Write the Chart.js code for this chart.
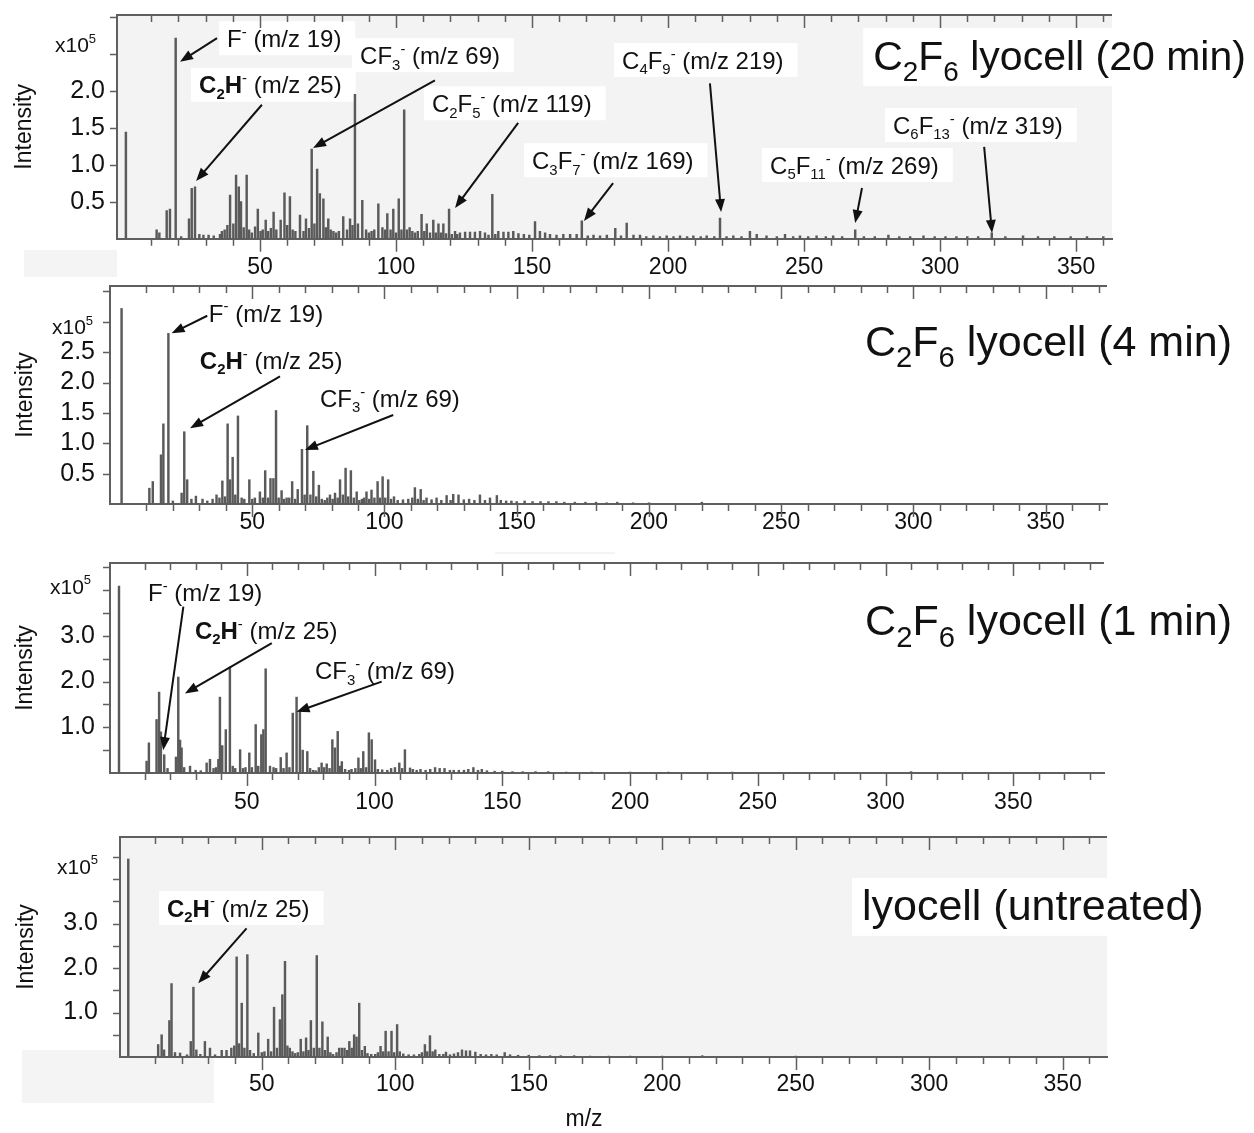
<!DOCTYPE html>
<html><head><meta charset="utf-8"><title>Negative-ion mass spectra of lyocell</title>
<script src="https://cdn.jsdelivr.net/npm/chart.js@4.4.1/dist/chart.umd.min.js"></script>
<style>
html,body{margin:0;padding:0;background:#fff;}
#fig{position:relative;width:1254px;height:1133px;overflow:hidden;background:#fff;}
#fig canvas{position:absolute;left:0;}
</style></head>
<body><div id="fig">
<canvas id="c1" width="1254" height="280" style="top:0px"></canvas>
<canvas id="c2" width="1254" height="275" style="top:280px"></canvas>
<canvas id="c3" width="1254" height="265" style="top:555px"></canvas>
<canvas id="c4" width="1254" height="313" style="top:820px"></canvas>
</div>
<script>
// ---------------- DATA ----------------
const xTickLabels = [50, 100, 150, 200, 250, 300, 350];
const panelTitles = ["C_2F_6 lyocell (20 min)", "C_2F_6 lyocell (4 min)", "C_2F_6 lyocell (1 min)", "lyocell (untreated)"];
const yTicks20 = [0.5, 1.0, 1.5, 2.0];
const yTicks4 = [0.5, 1.0, 1.5, 2.0, 2.5];
const yTicks1 = [1.0, 2.0, 3.0];
const yTicksUn = [1.0, 2.0, 3.0];
const labels20 = ["F^- (m/z 19)", "*C_2H*^- (m/z 25)", "CF_3^- (m/z 69)", "C_2F_5^- (m/z 119)", "C_3F_7^- (m/z 169)", "C_4F_9^- (m/z 219)", "C_5F_{11}^- (m/z 269)", "C_6F_{13}^- (m/z 319)"];
const labels4 = ["F^- (m/z 19)", "*C_2H*^- (m/z 25)", "CF_3^- (m/z 69)"];
const labels1 = ["F^- (m/z 19)", "*C_2H*^- (m/z 25)", "CF_3^- (m/z 69)"];
const labelsUn = ["*C_2H*^- (m/z 25)"];

// spectra: [m/z, intensity x10^5]
const spectrum20min = [[0.7,1.44],[12,0.12],[13,0.08],[15.7,0.38],[16.9,0.40],[19,2.71],[21,0.03],[23.9,0.27],[24.9,0.68],[26.1,0.70],[27.7,0.06],[29.2,0.05],[31.1,0.05],[33,0.04],[35.3,0.06],[36,0.1],[37,0.12],[38,0.18],[39,0.59],[40.2,0.2],[41.2,0.86],[42.2,0.70],[43,0.5],[44,0.15],[45.1,0.86],[46,0.12],[47,0.08],[48.2,0.16],[49.2,0.40],[50.2,0.1],[51,0.12],[52.1,0.25],[53,0.1],[54,0.14],[55,0.36],[56,0.12],[57.6,0.25],[59,0.62],[60,0.18],[61,0.57],[62,0.12],[63,0.1],[64.7,0.32],[66,0.1],[66.9,0.27],[68,0.14],[69,1.21],[70,0.2],[71,0.94],[72,0.61],[73.3,0.54],[74.2,0.15],[75.1,0.27],[76,0.12],[77,0.1],[78,0.08],[79,0.1],[80.6,0.3],[82,0.12],[83.1,0.27],[84,0.18],[84.9,1.95],[86,0.2],[87.6,0.52],[89,0.12],[90,0.08],[91,0.1],[92,0.12],[93.5,0.47],[95,0.15],[96,0.12],[96.8,0.34],[98,0.12],[99,0.40],[100,0.08],[101,0.54],[102,0.12],[103,1.74],[104,0.12],[105,0.15],[106,0.1],[107,0.08],[108,0.1],[109.4,0.33],[110.4,0.1],[111.3,0.2],[112.5,0.08],[113.7,0.25],[114.6,0.08],[115.6,0.2],[116.5,0.08],[117.4,0.2],[118.4,0.07],[119.5,0.4],[120.5,0.06],[121.7,0.1],[122.5,0.06],[123.5,0.08],[125.4,0.09],[127.2,0.09],[129,0.09],[130.9,0.1],[132.7,0.08],[134,0.05],[135.4,0.6],[136.5,0.06],[137.6,0.1],[139.5,0.09],[141.3,0.09],[143.1,0.1],[145,0.07],[147,0.06],[149,0.05],[151.1,0.23],[152.9,0.1],[154.8,0.08],[156.6,0.06],[159,0.05],[161.5,0.06],[164,0.06],[166.4,0.06],[168.3,0.24],[170.5,0.04],[172.6,0.05],[175,0.04],[177.5,0.05],[180.6,0.14],[182.7,0.04],[184.8,0.21],[187.3,0.05],[189.7,0.05],[192,0.03],[194.6,0.04],[197,0.03],[199.5,0.04],[202,0.03],[204.4,0.04],[207,0.03],[209.3,0.04],[212,0.03],[214.2,0.04],[217,0.03],[219.1,0.28],[221.5,0.03],[224,0.04],[227,0.03],[230.1,0.1],[232.6,0.06],[236.2,0.04],[240,0.03],[243,0.06],[246,0.03],[248.5,0.04],[251.5,0.03],[254.6,0.04],[258,0.03],[260.7,0.04],[264,0.03],[268.8,0.12],[272,0.03],[276,0.03],[281,0.05],[285,0.03],[289,0.03],[293.9,0.04],[298,0.03],[302,0.03],[306,0.03],[310,0.03],[314,0.03],[319,0.08],[324,0.03],[330.5,0.04],[336,0.03],[342,0.03],[348,0.03],[354,0.03],[360,0.03]];

const spectrum4min = [[0.6,3.22],[11.1,0.26],[12.4,0.37],[15.5,0.81],[16.4,1.32],[18.3,2.81],[20,0.05],[23.3,0.18],[24.3,1.19],[25.4,0.40],[27,0.08],[28.7,0.13],[31.2,0.08],[33,0.05],[35,0.08],[36.5,0.15],[37.6,0.1],[38.7,0.38],[39.7,0.12],[40.7,1.32],[41.6,0.40],[42.6,0.77],[43.6,0.15],[44.6,1.45],[46,0.1],[47,0.08],[48.9,0.40],[50,0.08],[51,0.1],[52.9,0.2],[54,0.1],[54.9,0.55],[56,0.1],[56.9,0.42],[58,0.42],[59,1.54],[60,0.1],[61.1,0.22],[62,0.08],[63,0.1],[64,0.1],[65.1,0.37],[66.2,0.08],[67.2,0.24],[68.8,0.90],[69.8,0.15],[70.8,1.29],[72,0.15],[73.1,0.54],[74.2,0.12],[75.2,0.31],[76.3,0.08],[77.4,0.06],[78.4,0.1],[79.4,0.15],[80.4,0.08],[81.3,0.18],[82.3,0.1],[83.2,0.40],[84.3,0.15],[85.3,0.59],[86.3,0.12],[87.3,0.55],[88.4,0.1],[89.5,0.2],[90.5,0.06],[91.5,0.08],[92.3,0.1],[93.2,0.2],[94.2,0.08],[95.1,0.23],[96.2,0.1],[97.4,0.37],[98.3,0.1],[99.3,0.45],[100.3,0.1],[101.4,0.40],[102.5,0.08],[103.6,0.12],[105,0.06],[107,0.07],[109,0.08],[110.5,0.1],[111.5,0.27],[112.6,0.08],[113.7,0.24],[114.8,0.06],[115.9,0.1],[117.8,0.07],[119.7,0.1],[121.5,0.06],[123.5,0.14],[125,0.06],[126,0.16],[128,0.15],[130,0.07],[132,0.08],[134,0.06],[136.1,0.15],[138,0.06],[139.9,0.1],[142.5,0.14],[144,0.06],[146,0.05],[148,0.05],[150,0.04],[153,0.05],[156,0.04],[159,0.04],[162,0.04],[165,0.04],[168,0.03],[172,0.03],[176,0.03],[180,0.03],[184,0.02],[188,0.03],[194,0.02],[200,0.02],[220,0.03]];

const spectrum1min = [[0,4.09],[10.8,0.26],[11.7,0.66],[14.7,1.17],[15.7,1.77],[16.4,0.9],[17.7,0.4],[19,0.1],[22.3,0.35],[23.2,2.10],[23.9,0.72],[24.5,0.55],[25.5,0.12],[27.8,0.15],[30,0.06],[32,0.05],[34.3,0.22],[35.6,0.3],[37,0.1],[38,0.12],[38.9,0.3],[39.5,1.66],[40.4,0.6],[41.8,0.95],[43.4,2.32],[44.5,0.15],[45.5,0.1],[47.4,0.51],[48.5,0.1],[49.5,0.12],[51,0.44],[52,0.12],[53.5,1.06],[54.5,0.15],[55.7,0.84],[56.5,0.95],[57.4,2.28],[59.1,0.15],[60.5,0.12],[61.5,0.1],[63.3,0.34],[64.4,0.1],[65.6,0.44],[66.7,0.12],[68,1.31],[69.5,1.66],[70.8,1.35],[71.9,0.5],[73.7,0.47],[74.8,0.1],[76,0.06],[77,0.05],[78.2,0.12],[79.3,0.22],[80.3,0.12],[81.3,0.2],[82.4,0.1],[83.5,0.73],[84.5,0.55],[85.6,0.91],[86.4,0.15],[87.2,0.25],[88.5,0.08],[90,0.06],[91,0.08],[92.5,0.1],[93.7,0.33],[94.6,0.1],[95.6,0.47],[96.7,0.12],[97.8,0.88],[98.9,0.73],[100.2,0.29],[101.3,0.08],[103,0.07],[105,0.06],[106.5,0.1],[108,0.12],[109.7,0.22],[110.8,0.1],[111.9,0.51],[113.9,0.11],[115,0.08],[116.5,0.06],[118,0.08],[120,0.06],[121.8,0.08],[123.7,0.12],[125.5,0.1],[127.4,0.1],[129.5,0.06],[131,0.06],[133,0.06],[135,0.06],[136.7,0.08],[138.7,0.12],[140.5,0.06],[142,0.08],[144,0.05],[147,0.04],[150,0.04],[154,0.03],[158,0.03],[163,0.03],[168,0.03],[175,0.02],[185,0.02],[200,0.02],[215,0.02],[240,0.02],[310,0.03]];

const spectrumUntreated = [[0,4.45],[11.2,0.28],[12.5,0.5],[13.4,0.16],[15.4,0.82],[16.2,1.65],[17.5,0.1],[19.4,0.09],[22,0.05],[23.4,0.35],[24.4,1.57],[25.5,0.16],[27,0.06],[28.7,0.35],[30.6,0.2],[32.5,0.05],[35,0.15],[36.8,0.15],[38.6,0.2],[39.7,0.25],[40.6,2.25],[41.5,0.3],[42.5,1.21],[43.5,0.2],[44.6,2.3],[45.6,0.15],[47,0.08],[48.7,0.54],[50,0.1],[51,0.12],[52.4,0.40],[53.5,0.12],[54.6,1.12],[55.7,0.2],[56.8,0.84],[57.7,1.4],[58.7,2.15],[59.6,0.25],[60.5,0.2],[61.5,0.12],[62.5,0.08],[63.5,0.1],[64.6,0.4],[65.6,0.12],[66.6,0.43],[67.5,0.15],[68.4,0.82],[69.5,0.2],[70.6,2.28],[71.6,0.2],[72.7,0.79],[73.7,0.15],[74.7,0.45],[75.7,0.1],[76.7,0.06],[78,0.1],[79,0.2],[80,0.2],[81,0.2],[82,0.15],[82.8,0.35],[83.7,0.2],[84.6,0.5],[85.5,0.45],[86.5,1.21],[87.5,0.15],[88.6,0.24],[89.6,0.08],[91,0.06],[92.5,0.06],[93.5,0.1],[94.5,0.24],[95.5,0.12],[96.4,0.58],[97.5,0.12],[98.6,0.58],[99.6,0.1],[100.7,0.73],[101.7,0.12],[103,0.07],[105,0.05],[107,0.05],[109,0.06],[110,0.1],[111.1,0.28],[112,0.12],[113,0.48],[114,0.12],[115,0.16],[116.5,0.06],[118,0.06],[119,0.11],[120.5,0.05],[122,0.07],[123.5,0.1],[125,0.16],[126.5,0.14],[128,0.14],[130,0.11],[132,0.06],[134,0.05],[136,0.06],[138,0.05],[141,0.1],[143,0.05],[146,0.04],[150,0.04],[154,0.03],[158,0.03],[162,0.03],[167,0.03],[173,0.02],[180,0.02],[188,0.02],[200,0.02],[215,0.03],[250,0.02]];

// ---------------- LAYOUT (positions / styles) ----------------
const FONT = "'Liberation Sans', Arial, Helvetica, sans-serif";
const panels = [
  { canvas: 'c1', canvasTop: 0, canvasH: 280, left: 117, right: 1112, plotTop: 15, base: 238.7,
    xMin: -2.57, xMax: 363.2, yMax: 3.023, plotBg: '#f3f3f3', xPad: 15, yPad: 12,
    intensityX: 25, unitX: 55, unitY: 2.62, spectrum: spectrum20min, yTicks: yTicks20, labels: labels20,
    title: panelTitles[0], titleAt: [275.4, 2.48], titleSize: 41,
    annot: [
      { at: [37.9, 2.71], from: [34.2, 2.71], tip: [20.6, 2.39] },
      { at: [27.6, 2.08], from: [50.7, 1.81], tip: [26.5, 0.78] },
      { at: [86.8, 2.48], from: [114.3, 2.14], tip: [69.5, 1.225] },
      { at: [113.2, 1.83], from: [144.9, 1.565], tip: [121.7, 0.415] },
      { at: [150, 1.06], from: [179.8, 0.75], tip: [169.1, 0.24] },
      { at: [183.1, 2.415], from: [215.4, 2.10], tip: [219.5, 0.36] },
      { at: [237.5, 0.996], from: [271.3, 0.685], tip: [268.8, 0.212] },
      { at: [282.7, 1.536], from: [316.2, 1.24], tip: [319.1, 0.077] }
    ],
    artifacts: [[24, 250, 93, 27]] },
  { canvas: 'c2', canvasTop: 280, canvasH: 275, left: 110, right: 1107, plotTop: 286, base: 504,
    xMin: -3.78, xMax: 373.2, yMax: 3.59, plotBg: null, xPad: 5, yPad: 15,
    intensityX: 26, unitX: 52, unitY: 2.92, spectrum: spectrum4min, yTicks: yTicks4, labels: labels4,
    title: panelTitles[1], titleAt: [281.7, 2.70], titleSize: 43,
    annot: [
      { at: [33.6, 3.147], from: [33.0, 3.10], tip: [19.5, 2.81] },
      { at: [30.2, 2.37], from: [60.5, 2.10], tip: [26.5, 1.247] },
      { at: [75.6, 1.746], from: [103.3, 1.466], tip: [69.9, 0.89] }
    ],
    artifacts: [[495, 552, 120, 2]] },
  { canvas: 'c3', canvasTop: 555, canvasH: 265, left: 110, right: 1104, plotTop: 563, base: 773,
    xMin: -3.52, xMax: 385.5, yMax: 4.595, plotBg: null, xPad: 16, yPad: 15,
    intensityX: 26, unitX: 50, unitY: 4.09, spectrum: spectrum1min, yTicks: yTicks1, labels: labels1,
    title: panelTitles[2], titleAt: [292, 3.35], titleSize: 43,
    annot: [
      { at: [11.35, 3.96], from: [25.2, 3.64], tip: [17.3, 0.50] },
      { at: [29.7, 3.13], from: [59.8, 2.84], tip: [25.8, 1.74] },
      { at: [76.7, 2.25], from: [102.8, 2.0], tip: [69.5, 1.34] }
    ],
    artifacts: [] },
  { canvas: 'c4', canvasTop: 820, canvasH: 313, left: 120, right: 1107, plotTop: 837, base: 1057,
    xMin: -3.1, xMax: 366.6, yMax: 4.944, plotBg: '#f3f3f3', xPad: 14, yPad: 22,
    intensityX: 27, unitX: 57, unitY: 4.29, spectrum: spectrumUntreated, yTicks: yTicksUn, labels: labelsUn,
    title: panelTitles[3], titleAt: [274.8, 3.42], titleSize: 43,
    annot: [
      { at: [14.5, 3.35], from: [44.3, 2.89], tip: [26.2, 1.656] }
    ],
    artifacts: [[22, 1050, 192, 53]],
    axisTitle: 'm/z', axisTitleAt: [584, 1120] }
];

// ---------------- rich text helpers ----------------
function parseRich(str) {
  const segs = []; let bold = false; let i = 0;
  while (i < str.length) {
    const c = str[i];
    if (c === '*') { bold = !bold; i++; continue; }
    if (c === '_' || c === '^') {
      let t; const j = i + 1;
      if (str[j] === '{') { const k = str.indexOf('}', j); t = str.slice(j + 1, k); i = k + 1; }
      else { t = str[j]; i = j + 1; }
      segs.push({ t, mode: c === '_' ? 'sub' : 'sup', bold }); continue;
    }
    let t = '';
    while (i < str.length && '*_^'.indexOf(str[i]) < 0) { t += str[i]; i++; }
    segs.push({ t, mode: 'n', bold });
  }
  return segs;
}
function segFont(s, size, small) {
  const fs = s.mode === 'n' ? size : size * small;
  return (s.bold ? 'bold ' : '') + fs.toFixed(1) + 'px ' + FONT;
}
function richWidth(ctx, segs, size, small) {
  let w = 0;
  segs.forEach(s => { ctx.font = segFont(s, size, small); w += ctx.measureText(s.t).width; });
  return w;
}
function drawRich(ctx, segs, x, yMid, size, small, subDy, supDy) {
  const yb = yMid + size * 0.36; let cx = x;
  ctx.textAlign = 'left'; ctx.textBaseline = 'alphabetic';
  segs.forEach(s => {
    ctx.font = segFont(s, size, small);
    let y = yb;
    if (s.mode === 'sub') y += size * subDy;
    if (s.mode === 'sup') y -= size * supDy;
    ctx.fillText(s.t, cx, y);
    cx += ctx.measureText(s.t).width;
  });
}
function arrow(ctx, x1, y1, x2, y2) {
  const a = Math.atan2(y2 - y1, x2 - x1), L = 13, W = 5;
  const ca = Math.cos(a), sa = Math.sin(a);
  ctx.beginPath(); ctx.moveTo(x1, y1); ctx.lineTo(x2 - L * 0.7 * ca, y2 - L * 0.7 * sa); ctx.stroke();
  ctx.beginPath(); ctx.moveTo(x2, y2);
  ctx.lineTo(x2 - L * ca + W * sa, y2 - L * sa - W * ca);
  ctx.lineTo(x2 - L * ca - W * sa, y2 - L * sa + W * ca);
  ctx.closePath(); ctx.fill();
}

const ANN_SIZE = 24;

const panelPlugin = {
  id: 'panel',
  beforeDraw(chart, args, o) {
    const ctx = chart.ctx, ca = chart.chartArea, P = o.P;
    ctx.save();
    ctx.fillStyle = '#fff'; ctx.fillRect(0, 0, chart.width, chart.height);
    P.artifacts.forEach(r => { ctx.fillStyle = '#f4f4f4'; ctx.fillRect(r[0], r[1] - P.canvasTop, r[2], r[3]); });
    if (P.plotBg) { ctx.fillStyle = P.plotBg; ctx.fillRect(ca.left, ca.top, ca.right - ca.left, ca.bottom - ca.top); }
    ctx.restore();
  },
  beforeDatasetsDraw(chart, args, o) {
    const ctx = chart.ctx, P = o.P, xs = chart.scales.x, ys = chart.scales.y;
    ctx.save(); ctx.fillStyle = '#ffffff';
    P.labels.forEach((lab, i) => {
      const a = P.annot[i]; const segs = parseRich(lab);
      const w = richWidth(ctx, segs, ANN_SIZE, 0.62);
      const x = xs.getPixelForValue(a.at[0]), y = ys.getPixelForValue(a.at[1]);
      ctx.fillRect(x - 8, y - 17, w + 22, 34);
    });
    const tsegs = parseRich(P.title);
    const tw = richWidth(ctx, tsegs, P.titleSize, 0.68);
    const tx = xs.getPixelForValue(P.titleAt[0]), ty = ys.getPixelForValue(P.titleAt[1]);
    ctx.fillRect(tx - 10, ty - 27, tw + 24, 58);
    ctx.restore();
  },
  afterDatasetsDraw(chart, args, o) {
    const ctx = chart.ctx, ca = chart.chartArea, P = o.P, xs = chart.scales.x, ys = chart.scales.y;
    ctx.save();
    // top border
    ctx.strokeStyle = '#5f5f5f'; ctx.lineWidth = 2;
    ctx.beginPath(); ctx.moveTo(ca.left - 1, ca.top); ctx.lineTo(ca.right, ca.top); ctx.stroke();
    // x ticks (every 10), top inward + bottom outward
    ctx.lineWidth = 1.5;
    for (let v = 10; v <= P.xMax; v += 10) {
      const px = Math.round(xs.getPixelForValue(v)) + 0.5;
      const len = (v % 50 === 0) ? 13 : 7;
      ctx.beginPath();
      ctx.moveTo(px, ca.top); ctx.lineTo(px, ca.top + len);
      ctx.moveTo(px, ca.bottom); ctx.lineTo(px, ca.bottom + len);
      ctx.stroke();
    }
    // y ticks every 0.5, outward
    for (let v = 0.5; v < P.yMax; v += 0.5) {
      const py = Math.round(ys.getPixelForValue(v)) + 0.5;
      ctx.beginPath(); ctx.moveTo(ca.left - 7, py); ctx.lineTo(ca.left, py); ctx.stroke();
    }
    // unit label x10^5
    ctx.fillStyle = '#111';
    drawRich(ctx, parseRich('x10^5'), P.unitX, ys.getPixelForValue(P.unitY), 21, 0.62, 0.22, 0.45);
    // Intensity label
    ctx.save();
    ctx.translate(P.intensityX, (ca.top + ca.bottom) / 2);
    ctx.rotate(-Math.PI / 2);
    ctx.font = '23px ' + FONT; ctx.textAlign = 'center'; ctx.textBaseline = 'middle';
    ctx.fillText('Intensity', 0, 0);
    ctx.restore();
    // annotations
    ctx.strokeStyle = '#111'; ctx.fillStyle = '#111'; ctx.lineWidth = 2;
    P.labels.forEach((lab, i) => {
      const a = P.annot[i];
      drawRich(ctx, parseRich(lab), xs.getPixelForValue(a.at[0]), ys.getPixelForValue(a.at[1]), ANN_SIZE, 0.62, 0.24, 0.42);
      arrow(ctx, xs.getPixelForValue(a.from[0]), ys.getPixelForValue(a.from[1]),
                 xs.getPixelForValue(a.tip[0]), ys.getPixelForValue(a.tip[1]));
    });
    // title
    drawRich(ctx, parseRich(P.title), xs.getPixelForValue(P.titleAt[0]), ys.getPixelForValue(P.titleAt[1]), P.titleSize, 0.68, 0.26, 0.4);
    // x axis title
    if (P.axisTitle) {
      ctx.font = '23px ' + FONT; ctx.textAlign = 'center'; ctx.textBaseline = 'middle';
      ctx.fillText(P.axisTitle, P.axisTitleAt[0], P.axisTitleAt[1] - P.canvasTop);
    }
    ctx.restore();
  }
};

function noScalePadding(s) { s.paddingTop = 0; s.paddingBottom = 0; s.paddingLeft = 0; s.paddingRight = 0; }

Chart.defaults.font.family = FONT;
Chart.defaults.color = '#111';

panels.forEach(P => {
  const el = document.getElementById(P.canvas);
  new Chart(el, {
    type: 'bar',
    data: {
      datasets: [{
        data: P.spectrum.map(p => ({ x: p[0], y: p[1] })),
        backgroundColor: '#5a5a5a', borderWidth: 0, barThickness: 1.8, grouped: false
      }]
    },
    options: {
      responsive: false, animation: false, devicePixelRatio: 1,
      layout: { padding: { top: P.plotTop - P.canvasTop, right: 1254 - P.right, left: 0, bottom: 0 } },
      plugins: { legend: { display: false }, tooltip: { enabled: false }, panel: { P } },
      scales: {
        x: {
          type: 'linear', min: P.xMin, max: P.xMax, offset: false,
          grid: { display: false, drawTicks: false },
          border: { display: true, color: '#5f5f5f', width: 2 },
          afterBuildTicks: s => { s.ticks = xTickLabels.map(v => ({ value: v })); },
          afterFit: s => { s.height = P.canvasTop + P.canvasH - P.base; noScalePadding(s); },
          ticks: { padding: P.xPad, maxRotation: 0, autoSkip: false, font: { size: 23 }, color: '#111',
                   callback: v => String(v) }
        },
        y: {
          min: 0, max: P.yMax,
          grid: { display: false, drawTicks: false },
          border: { display: true, color: '#5f5f5f', width: 2 },
          afterBuildTicks: s => { s.ticks = P.yTicks.map(v => ({ value: v })); },
          afterFit: s => { s.width = P.left; noScalePadding(s); },
          ticks: { padding: P.yPad, font: { size: 25 }, color: '#111', callback: v => Number(v).toFixed(1) }
        }
      }
    },
    plugins: [panelPlugin]
  });
});
</script></body></html>
